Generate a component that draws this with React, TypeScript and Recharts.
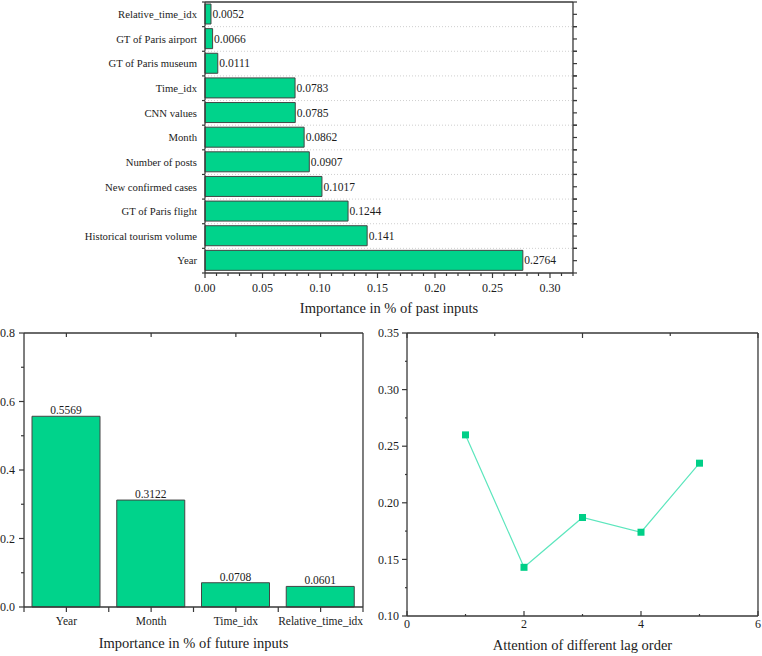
import React from "react";
import { BarChart, Bar, LineChart, Line, XAxis, YAxis, LabelList } from "recharts";

const FONT = "'Liberation Serif', 'Times New Roman', serif";
const INK = "#1c1c1c";
const FRAME = "#383838";
const BAR_FILL = "#00d38b";
const BAR_EDGE = "#444444";
const LINE_COLOR = "#5ce6bd";
const MARKER = "#00cf87";
const THIN = 0.01; // axes need a non-zero size to render

// past inputs (top chart), listed top to bottom
const pastInputs = [
  "Relative_time_idx",
  "GT of Paris airport",
  "GT of Paris museum",
  "Time_idx",
  "CNN values",
  "Month",
  "Number of posts",
  "New confirmed cases",
  "GT of Paris flight",
  "Historical tourism volume",
  "Year",
];
const pastImportance = [0.0052, 0.0066, 0.0111, 0.0783, 0.0785, 0.0862, 0.0907, 0.1017, 0.1244, 0.141, 0.2764];
const pastAxisTicks = Array.from({ length: 33 }, (_, i) => +(i * 0.01).toFixed(2));

// future inputs (bottom left)
const futureInputs = ["Year", "Month", "Time_idx", "Relative_time_idx"];
const futureImportance = [0.5569, 0.3122, 0.0708, 0.0601];
const futureTicks = [0, 0.1, 0.2, 0.3, 0.4, 0.5, 0.6, 0.7, 0.8];

// lag attention (bottom right)
const lagOrders = [1, 2, 3, 4, 5];
const lagAttention = [0.26, 0.143, 0.187, 0.174, 0.235];
const lagXTicks = [0, 1, 2, 3, 4, 5, 6];
const lagYTicks = [0.1, 0.125, 0.15, 0.175, 0.2, 0.225, 0.25, 0.275, 0.3, 0.325, 0.35];

const pastData = pastInputs.map((name, i) => ({ name, value: pastImportance[i] }));
const futureData = futureInputs.map((name, i) => ({ name, value: futureImportance[i] }));
const lagData = lagOrders.map((lag, i) => ({ lag, attention: lagAttention[i] }));

// top chart frame
const PAST_W = 762, PAST_H = 322;
const PAST_MARGIN = { top: 2, right: 189, bottom: 49, left: 205 };
const PAST_PLOT_W = PAST_W - PAST_MARGIN.left - PAST_MARGIN.right;
const PAST_ROW = (PAST_H - PAST_MARGIN.top - PAST_MARGIN.bottom) / pastInputs.length;

// bottom-left frame
const FUT_W = 380, FUT_H = 330;
const FUT_MARGIN = { top: 7, right: 17, bottom: 49, left: 24 };
const FUT_COL = (FUT_W - FUT_MARGIN.left - FUT_MARGIN.right) / futureInputs.length;

const onStep = (v: number, step: number) => Math.abs(v / step - Math.round(v / step)) < 1e-6;

type TickOpts = { dir: number; major: number; majorLen: number; minorLen: number; digits?: number; gap?: number; size?: number };

const xTick = (o: TickOpts) => (p: any) => {
  const v = p.payload.value as number;
  const big = onStep(v, o.major);
  return (
    <g>
      <line x1={p.x} x2={p.x} y1={p.y} y2={p.y + o.dir * (big ? o.majorLen : o.minorLen)} stroke={FRAME} strokeWidth={1.2} />
      {big && o.digits !== undefined && (
        <text x={p.x} y={p.y + (o.gap ?? 0)} textAnchor="middle" fontFamily={FONT} fontSize={o.size} fill={INK}>
          {v.toFixed(o.digits)}
        </text>
      )}
    </g>
  );
};

const yTick = (o: TickOpts) => (p: any) => {
  const v = p.payload.value as number;
  const big = onStep(v, o.major);
  return (
    <g>
      <line x1={p.x} x2={p.x + o.dir * (big ? o.majorLen : o.minorLen)} y1={p.y} y2={p.y} stroke={FRAME} strokeWidth={1.2} />
      {big && o.digits !== undefined && (
        <text x={p.x - (o.gap ?? 0)} y={p.y} dy="0.35em" textAnchor="end" fontFamily={FONT} fontSize={o.size} fill={INK}>
          {v.toFixed(o.digits)}
        </text>
      )}
    </g>
  );
};

// left category axis of top chart: label, row-edge tick, faint dotted row separator
const PastLabel = (p: any) => {
  const edge = p.y + PAST_ROW / 2;
  return (
    <g>
      {p.index === 0 && <line x1={p.x} x2={p.x - 3} y1={p.y - PAST_ROW / 2} y2={p.y - PAST_ROW / 2} stroke={FRAME} strokeWidth={1.2} />}
      <line x1={p.x} x2={p.x - 3} y1={edge} y2={edge} stroke={FRAME} strokeWidth={1.2} />
      {p.index < pastInputs.length - 1 && (
        <line x1={p.x} x2={p.x + PAST_PLOT_W} y1={edge} y2={edge} stroke="#cfcfcf" strokeWidth={1} strokeDasharray="1 2" />
      )}
      <text x={p.x - 8} y={p.y} dy="0.35em" textAnchor="end" fontFamily={FONT} fontSize={10.7} fill={INK}>
        {p.payload.value}
      </text>
    </g>
  );
};

// right category axis of top chart: ticks at row edges and centres
const PastRight = (p: any) => (
  <g stroke={FRAME} strokeWidth={1.2}>
    <line x1={p.x} x2={p.x + 4} y1={p.y - PAST_ROW / 2} y2={p.y - PAST_ROW / 2} />
    <line x1={p.x} x2={p.x + 4} y1={p.y} y2={p.y} />
    <line x1={p.x} x2={p.x + 4} y1={p.y + PAST_ROW / 2} y2={p.y + PAST_ROW / 2} />
  </g>
);

const FutureBottom = (p: any) => (
  <g>
    <line x1={p.x} x2={p.x} y1={p.y} y2={p.y + 5} stroke={FRAME} strokeWidth={1.2} />
    {p.index === 0 && <line x1={p.x - FUT_COL / 2} x2={p.x - FUT_COL / 2} y1={p.y} y2={p.y + 5} stroke={FRAME} strokeWidth={1.2} />}
    <line x1={p.x + FUT_COL / 2} x2={p.x + FUT_COL / 2} y1={p.y} y2={p.y + 5} stroke={FRAME} strokeWidth={1.2} />
    <text x={p.x} y={p.y + 18} textAnchor="middle" fontFamily={FONT} fontSize={11.5} fill={INK}>
      {p.payload.value}
    </text>
  </g>
);

const FutureTop = (p: any) => <line x1={p.x} x2={p.x} y1={p.y} y2={p.y + 4} stroke={FRAME} strokeWidth={1.2} />;

const SquareDot = (p: any) => <rect key={`d${p.index}`} x={p.cx - 3.5} y={p.cy - 3.5} width={7} height={7} fill={MARKER} />;

const axisLine = { stroke: FRAME, strokeWidth: 1.3 };
const titleStyle = { fontFamily: FONT, fontSize: 14.5, fill: INK };
const valueLabel = { fontFamily: FONT, fontSize: 11.5, fill: INK };

function PastChart() {
  return (
    <BarChart width={PAST_W} height={PAST_H} data={pastData} layout="vertical" margin={PAST_MARGIN}>
      <XAxis type="number" domain={[0, 0.32]} ticks={pastAxisTicks} interval={0} height={THIN} tickSize={0} tickMargin={0}
        axisLine={axisLine} tickLine={false}
        tick={xTick({ dir: 1, major: 0.05, majorLen: 5, minorLen: 3, digits: 2, gap: 19.5, size: 12 })}
        label={{ value: "Importance in % of past inputs", position: "bottom", offset: 29.7, ...titleStyle }} />
      <XAxis xAxisId="top" orientation="top" type="number" domain={[0, 0.32]} ticks={pastAxisTicks} interval={0} height={THIN}
        tickSize={0} tickMargin={0} axisLine={axisLine} tickLine={false}
        tick={xTick({ dir: 1, major: 0.05, majorLen: 6, minorLen: 3 })} />
      <YAxis type="category" dataKey="name" width={THIN} interval={0} tickSize={0} tickMargin={0} axisLine={axisLine} tickLine={false} tick={PastLabel} />
      <YAxis yAxisId="r" orientation="right" type="category" dataKey="name" width={THIN} interval={0} tickSize={0} tickMargin={0}
        axisLine={axisLine} tickLine={false} tick={PastRight} />
      <Bar dataKey="value" fill={BAR_FILL} stroke={BAR_EDGE} strokeWidth={1} barSize={20} isAnimationActive={false}>
        <LabelList dataKey="value" position="right" offset={1.5} {...valueLabel} />
      </Bar>
    </BarChart>
  );
}

function FutureChart() {
  return (
    <BarChart width={FUT_W} height={FUT_H} data={futureData} margin={FUT_MARGIN}>
      <XAxis dataKey="name" height={THIN} interval={0} tickSize={0} tickMargin={0} axisLine={axisLine} tickLine={false} tick={FutureBottom}
        label={{ value: "Importance in % of future inputs", position: "bottom", offset: 31.2, ...titleStyle }} />
      <XAxis xAxisId="top" orientation="top" dataKey="name" height={THIN} interval={0} tickSize={0} tickMargin={0}
        axisLine={axisLine} tickLine={false} tick={FutureTop} />
      <YAxis type="number" domain={[0, 0.8]} ticks={futureTicks} interval={0} width={THIN} tickSize={0} tickMargin={0}
        axisLine={axisLine} tickLine={false}
        tick={yTick({ dir: -1, major: 0.2, majorLen: 5, minorLen: 3, digits: 1, gap: 9, size: 12 })} />
      <YAxis yAxisId="r" orientation="right" type="number" domain={[0, 0.8]} ticks={futureTicks} interval={0} width={THIN}
        tickSize={0} tickMargin={0} axisLine={axisLine} tickLine={false}
        tick={yTick({ dir: -1, major: 0.2, majorLen: 5, minorLen: 3 })} />
      <Bar dataKey="value" fill={BAR_FILL} stroke={BAR_EDGE} strokeWidth={1} barSize={68} isAnimationActive={false}>
        <LabelList dataKey="value" position="top" offset={2} {...valueLabel} />
      </Bar>
    </BarChart>
  );
}

function LagChart() {
  return (
    <LineChart width={400} height={330} data={lagData} margin={{ top: 7, right: 4, bottom: 40, left: 45 }}>
      <XAxis dataKey="lag" type="number" domain={[0, 6]} ticks={lagXTicks} interval={0} height={THIN} tickSize={0} tickMargin={0}
        axisLine={axisLine} tickLine={false}
        tick={xTick({ dir: -1, major: 2, majorLen: 5, minorLen: 2, digits: 0, gap: 12, size: 12 })}
        label={{ value: "Attention of different lag order", position: "bottom", offset: 23.7, ...titleStyle }} />
      <XAxis xAxisId="top" orientation="top" type="number" domain={[0, 6]} ticks={lagXTicks} interval={0} height={THIN}
        tickSize={0} tickMargin={0} axisLine={axisLine} tickLine={false}
        tick={xTick({ dir: 1, major: 2, majorLen: 5, minorLen: 3 })} />
      <YAxis type="number" domain={[0.1, 0.35]} ticks={lagYTicks} interval={0} width={THIN} tickSize={0} tickMargin={0}
        axisLine={axisLine} tickLine={false}
        tick={yTick({ dir: -1, major: 0.05, majorLen: 5, minorLen: 2, digits: 2, gap: 8, size: 12 })} />
      <YAxis yAxisId="r" orientation="right" type="number" domain={[0.1, 0.35]} ticks={lagYTicks} interval={0} width={THIN}
        tickSize={0} tickMargin={0} axisLine={axisLine} tickLine={false}
        tick={yTick({ dir: -1, major: 0.05, majorLen: 5, minorLen: 3 })} />
      <Line dataKey="attention" stroke={LINE_COLOR} strokeWidth={1.2} dot={SquareDot} activeDot={false} isAnimationActive={false} />
    </LineChart>
  );
}

export default function App() {
  return (
    <div style={{ position: "absolute", left: 0, top: 0, width: 762, height: 656, background: "#fff" }}>
      <div style={{ position: "absolute", left: 0, top: 0 }}>
        <PastChart />
      </div>
      <div style={{ position: "absolute", left: 0, top: 326 }}>
        <FutureChart />
      </div>
      <div style={{ position: "absolute", left: 362, top: 326 }}>
        <LagChart />
      </div>
    </div>
  );
}
